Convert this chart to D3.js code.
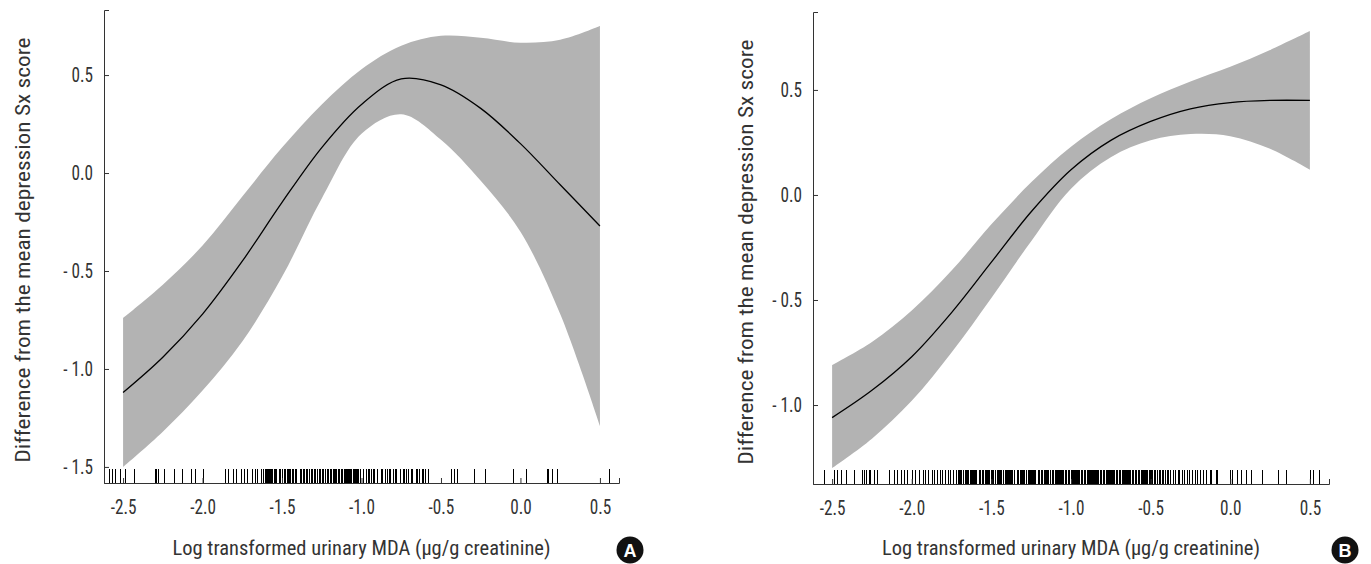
<!DOCTYPE html>
<html>
<head>
<meta charset="utf-8">
<script src="https://cdn.jsdelivr.net/npm/d3@7"></script>
<style>
  body { margin: 0; background: #fff; }
  text { font-family: "Liberation Sans Narrow", "Roboto Condensed", Roboto, sans-serif; fill: #333; }
</style>
</head>
<body>
<svg id="chart" width="1371" height="564"></svg>
<script>
// x grid shared by the fitted curves (log urinary MDA)
var xs = [-2.5, -2.25, -2.0, -1.75, -1.5, -1.25, -1.0, -0.75, -0.5, -0.25, 0.0, 0.25, 0.5];

// Panel A: fit and confidence band
var fitA   = [-1.12, -0.94, -0.72, -0.45, -0.15, 0.13, 0.35, 0.48, 0.45, 0.33, 0.15, -0.06, -0.27];
var upperA = [-0.74, -0.57, -0.37, -0.12, 0.13, 0.35, 0.53, 0.65, 0.70, 0.69, 0.665, 0.68, 0.75];
var lowerA = [-1.50, -1.32, -1.11, -0.86, -0.53, -0.13, 0.20, 0.30, 0.17, -0.04, -0.30, -0.72, -1.29];

// Panel B: fit and confidence band
var fitB   = [-1.06, -0.93, -0.77, -0.56, -0.32, -0.08, 0.12, 0.26, 0.35, 0.41, 0.44, 0.45, 0.45];
var upperB = [-0.81, -0.70, -0.55, -0.36, -0.14, 0.06, 0.23, 0.36, 0.46, 0.54, 0.61, 0.69, 0.78];
var lowerB = [-1.30, -1.16, -0.98, -0.75, -0.49, -0.22, 0.03, 0.18, 0.26, 0.29, 0.28, 0.22, 0.12];

// observations (rug)
var rugA = [-2.59, -2.57, -2.55, -2.52, -2.49, -2.43, -2.30, -2.29, -2.28, -2.24, -2.18, -2.13, -2.07, -2.05, -2.00,
  -1.86, -1.84, -1.81, -1.79, -1.76, -1.74, -1.72, -1.69, -1.67, -1.66, -1.63, -1.62, -1.61, -1.605, -1.60, -1.595,
  -1.59, -1.58, -1.575, -1.57, -1.565, -1.56, -1.55, -1.545, -1.54, -1.535, -1.52, -1.51, -1.50, -1.49, -1.48, -1.47,
  -1.465, -1.455, -1.45, -1.44, -1.43, -1.42, -1.415, -1.41, -1.39, -1.38, -1.37, -1.36, -1.35, -1.34, -1.33, -1.32,
  -1.31, -1.30, -1.29, -1.28, -1.27, -1.26, -1.25, -1.24, -1.23, -1.22, -1.21, -1.20, -1.19, -1.18, -1.17, -1.165,
  -1.16, -1.15, -1.145, -1.14, -1.13, -1.125, -1.12, -1.11, -1.105, -1.10, -1.095, -1.09, -1.085, -1.08, -1.07,
  -1.065, -1.055, -1.05, -1.045, -1.04, -1.035, -1.03, -1.02, -1.01, -0.99, -0.97, -0.96, -0.95, -0.94, -0.93, -0.92,
  -0.90, -0.88, -0.87, -0.85, -0.84, -0.83, -0.82, -0.80, -0.79, -0.78, -0.76, -0.74, -0.73, -0.72, -0.71, -0.69,
  -0.68, -0.66, -0.65, -0.64, -0.62, -0.61, -0.60, -0.58, -0.44, -0.42, -0.40, -0.29, -0.22, -0.05, 0.035, 0.165,
  0.175, 0.20, 0.23, 0.56];
var rugB = [-2.55, -2.49, -2.47, -2.445, -2.41, -2.36, -2.315, -2.30, -2.29, -2.27, -2.26, -2.24, -2.22, -2.14, -2.11,
  -2.09, -2.07, -2.05, -2.03, -2.00, -1.98, -1.955, -1.93, -1.915, -1.90, -1.875, -1.86, -1.84, -1.825, -1.81, -1.79,
  -1.77, -1.76, -1.74, -1.72, -1.71, -1.705, -1.695, -1.69, -1.68, -1.675, -1.665, -1.66, -1.65, -1.645, -1.635, -1.63,
  -1.62, -1.615, -1.61, -1.60, -1.595, -1.58, -1.575, -1.57, -1.56, -1.555, -1.54, -1.535, -1.53, -1.52, -1.515, -1.50,
  -1.495, -1.49, -1.48, -1.475, -1.465, -1.46, -1.45, -1.445, -1.44, -1.43, -1.425, -1.415, -1.41, -1.40, -1.395, -1.39,
  -1.38, -1.375, -1.37, -1.36, -1.355, -1.34, -1.335, -1.33, -1.32, -1.315, -1.31, -1.30, -1.295, -1.28, -1.27, -1.265,
  -1.26, -1.25, -1.245, -1.24, -1.23, -1.225, -1.21, -1.205, -1.20, -1.19, -1.185, -1.18, -1.17, -1.165, -1.16, -1.15,
  -1.145, -1.135, -1.13, -1.12, -1.115, -1.11, -1.10, -1.095, -1.09, -1.08, -1.075, -1.07, -1.06, -1.055, -1.05, -1.04,
  -1.035, -1.03, -1.02, -1.015, -1.01, -1.00, -0.995, -0.99, -0.98, -0.975, -0.97, -0.96, -0.955, -0.95, -0.94, -0.935,
  -0.93, -0.92, -0.915, -0.91, -0.90, -0.895, -0.89, -0.88, -0.875, -0.87, -0.86, -0.855, -0.85, -0.84, -0.835, -0.83,
  -0.82, -0.815, -0.81, -0.80, -0.795, -0.79, -0.78, -0.775, -0.77, -0.76, -0.755, -0.75, -0.74, -0.735, -0.73, -0.72,
  -0.715, -0.71, -0.70, -0.695, -0.69, -0.68, -0.675, -0.67, -0.66, -0.655, -0.65, -0.64, -0.635, -0.63, -0.62, -0.615,
  -0.61, -0.60, -0.595, -0.59, -0.58, -0.575, -0.57, -0.56, -0.555, -0.55, -0.54, -0.535, -0.53, -0.52, -0.51, -0.505,
  -0.50, -0.49, -0.48, -0.475, -0.47, -0.46, -0.45, -0.44, -0.43, -0.42, -0.41, -0.40, -0.39, -0.38, -0.36, -0.35,
  -0.33, -0.32, -0.30, -0.29, -0.27, -0.26, -0.24, -0.22, -0.21, -0.19, -0.17, -0.15, -0.13, -0.12, -0.09, -0.085,
  -0.003, 0.008, 0.04, 0.07, 0.10, 0.13, 0.20, 0.30, 0.35, 0.50, 0.52, 0.56];

// axis ticks and labels
var xTicks = [-2.5, -2.0, -1.5, -1.0, -0.5, 0.0, 0.5];
var yTicksA = [0.5, 0.0, -0.5, -1.0, -1.5];
var yTicksB = [0.5, 0.0, -0.5, -1.0];
var xTitle = "Log transformed urinary MDA (\u00b5g/g creatinine)";
var yTitle = "Difference from the mean depression Sx score";
var panelLetters = ["A", "B"];

var svg = d3.select("#chart");
var squeeze = 0.84;   // narrow the glyphs, the source uses a condensed face

function fmtX(d) { return (d < 0 ? "-" : "") + Math.abs(d).toFixed(1); }
function fmtY(d) { return (d < 0 ? "- " : "") + Math.abs(d).toFixed(1); }

function drawPanel(p) {
  var x = d3.scaleLinear().domain([-2.62, 0.62]).range([p.left, p.right]);
  var y = d3.scaleLinear().domain(p.yDomain).range([p.bottom, p.top]);
  var g = svg.append("g");

  var pts = xs.map(function(v, i) { return { x: v, fit: p.fit[i], lo: p.lower[i], hi: p.upper[i] }; });

  // confidence band
  g.append("path")
    .datum(pts)
    .attr("fill", "#b3b3b3")
    .attr("d", d3.area()
      .x(function(d) { return x(d.x); })
      .y0(function(d) { return y(d.lo); })
      .y1(function(d) { return y(d.hi); })
      .curve(d3.curveCatmullRom));

  // fitted curve
  g.append("path")
    .datum(pts)
    .attr("fill", "none")
    .attr("stroke", "#000")
    .attr("stroke-width", 1.3)
    .attr("d", d3.line()
      .x(function(d) { return x(d.x); })
      .y(function(d) { return y(d.fit); })
      .curve(d3.curveCatmullRom));

  // rug
  g.selectAll("line.rug")
    .data(p.rug)
    .enter()
    .append("line")
    .attr("class", "rug")
    .attr("x1", function(d) { return Math.round(x(d)) + 0.5; })
    .attr("x2", function(d) { return Math.round(x(d)) + 0.5; })
    .attr("y1", p.bottom)
    .attr("y2", p.bottom - 14)
    .attr("stroke", "#000")
    .attr("stroke-width", 1);

  // axes (ticks point inward)
  var xAxis = g.append("g")
    .attr("transform", "translate(0," + p.bottom + ")")
    .call(d3.axisBottom(x).tickValues(xTicks).tickFormat(fmtX)
      .tickSizeInner(-5).tickSizeOuter(-5).tickPadding(16));
  var yAxis = g.append("g")
    .attr("transform", "translate(" + p.left + ",0)")
    .call(d3.axisLeft(y).tickValues(p.yTicks).tickFormat(fmtY)
      .tickSizeInner(-5).tickSizeOuter(-5).tickPadding(11));
  [xAxis, yAxis].forEach(function(a) {
    a.selectAll("path, line").attr("stroke", "#333");
    a.selectAll("text").attr("font-size", 20.5).attr("fill", "#333")
      .attr("transform", "scale(" + squeeze + ",1)");
  });
  yAxis.selectAll("text").attr("x", -11 / squeeze);

  // axis titles
  g.append("text")
    .attr("x", (p.left + p.right) / 2)
    .attr("y", 555)
    .attr("text-anchor", "middle")
    .attr("font-size", 20.5)
    .attr("textLength", 378)
    .attr("lengthAdjust", "spacingAndGlyphs")
    .text(xTitle);
  g.append("text")
    .attr("transform", "translate(" + p.yTitleX + "," + p.yTitleY + ") rotate(-90)")
    .attr("text-anchor", "middle")
    .attr("font-size", 20.5)
    .attr("textLength", 425)
    .attr("lengthAdjust", "spacingAndGlyphs")
    .text(yTitle);

  // panel letter
  g.append("circle")
    .attr("cx", p.letterX)
    .attr("cy", 550)
    .attr("r", 13.5)
    .attr("fill", "#111");
  g.append("text")
    .attr("x", p.letterX)
    .attr("y", 556.5)
    .attr("text-anchor", "middle")
    .attr("font-size", 18)
    .attr("font-weight", "bold")
    .style("font-family", "'Liberation Sans', Arial, sans-serif")
    .style("fill", "#fff")
    .text(p.letter);
}

drawPanel({
  left: 104, right: 619, top: 10, bottom: 483,
  yDomain: [-1.582, 0.832], yTicks: yTicksA,
  fit: fitA, upper: upperA, lower: lowerA, rug: rugA,
  yTitleX: 30, yTitleY: 250, letterX: 630, letter: panelLetters[0]
});
drawPanel({
  left: 813, right: 1329, top: 12, bottom: 484,
  yDomain: [-1.376, 0.871], yTicks: yTicksB,
  fit: fitB, upper: upperB, lower: lowerB, rug: rugB,
  yTitleX: 753, yTitleY: 252, letterX: 1345, letter: panelLetters[1]
});
</script>
</body>
</html>
